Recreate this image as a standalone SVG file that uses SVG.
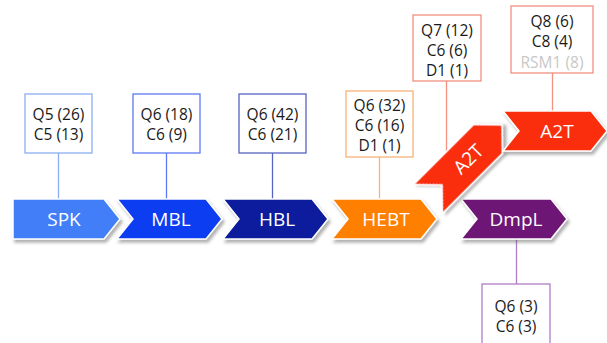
<svg xmlns="http://www.w3.org/2000/svg" width="607" height="343" viewBox="0 0 607 343">
<defs>
<filter id="sh" x="-10%" y="-20%" width="125%" height="150%">
<feDropShadow dx="2" dy="3" stdDeviation="1.5" flood-color="#555" flood-opacity="0.45"/>
</filter>
<style>
.chev{stroke:#fff;stroke-width:1.5;filter:url(#sh)}
.cl{font-family:"Open Sans","Liberation Sans",sans-serif;font-size:19px;fill:#fff;text-anchor:middle}
.box{fill:#fff;stroke-width:1.3}
.bt{font-family:"Open Sans","Liberation Sans",sans-serif;font-size:15.5px;fill:#1a1a1a;text-anchor:middle}
.ln{stroke-width:1.3;fill:none}
</style>
</defs>
<rect width="607" height="343" fill="#fff"/>
<g id="connectors">
<line class="ln" x1="58.5" y1="153" x2="58.5" y2="200" stroke="#8AAEF2"/>
<line class="ln" x1="166.5" y1="153" x2="166.5" y2="200" stroke="#5C78F2"/>
<line class="ln" x1="272.5" y1="153" x2="272.5" y2="200" stroke="#5865C0"/>
<line class="ln" x1="379.5" y1="157" x2="379.5" y2="200" stroke="#F4B27A"/>
<line class="ln" x1="446.5" y1="81" x2="446.5" y2="155" stroke="#F39080"/>
<line class="ln" x1="552.5" y1="73" x2="552.5" y2="112" stroke="#F39080"/>
<line class="ln" x1="516.5" y1="238" x2="516.5" y2="284" stroke="#B07CC4"/>
</g>
<g id="SPK">
<path class="chev" d="M13,199 H104 L120,219 L104,239 H13 Z" fill="#437EF7"/>
<text class="cl" x="64" y="226">SPK</text>
</g>
<g id="MBL">
<path class="chev" d="M117,199 H206 L222,219 L206,239 H117 L133,219 Z" fill="#0A3DF0"/>
<text class="cl" x="171" y="226">MBL</text>
</g>
<g id="HBL">
<path class="chev" d="M223,199 H312 L328,219 L312,239 H223 L239,219 Z" fill="#0A1B9C"/>
<text class="cl" x="277" y="226">HBL</text>
</g>
<g id="HEBT">
<path class="chev" d="M332,199 H421 L437,219 L421,239 H332 L348,219 Z" fill="#FF8000"/>
<text class="cl" x="386" y="226">HEBT</text>
</g>
<g id="DmpL">
<path class="chev" d="M461,199 H551 L567,219 L551,239 H461 L477,219 Z" fill="#6D1775"/>
<text class="cl" x="516" y="226">DmpL</text>
</g>
<g id="A2T_up" transform="translate(442,185) rotate(-45)">
<path class="chev" d="M-20,-20.5 H65 L85,0 L65,20.5 H-20 L0,0 Z" fill="#FA2E0C"/>
<text class="cl" x="37" y="7">A2T</text>
</g>
<g id="A2T">
<path class="chev" d="M503,111 H591 L607,131 L591,151 H503 L519,131 Z" fill="#FA2E0C"/>
<text class="cl" x="557" y="138">A2T</text>
</g>
<g id="box-SPK">
<rect class="box" x="25" y="94" width="67" height="59" stroke="#8AAEF2"/>
<text class="bt" x="58.5" y="120">Q5 (26)</text>
<text class="bt" x="58.5" y="140">C5 (13)</text>
</g>
<g id="box-MBL">
<rect class="box" x="133" y="94" width="67" height="59" stroke="#5C78F2"/>
<text class="bt" x="166.5" y="120">Q6 (18)</text>
<text class="bt" x="166.5" y="140">C6 (9)</text>
</g>
<g id="box-HBL">
<rect class="box" x="239" y="94" width="67" height="59" stroke="#5865C0"/>
<text class="bt" x="272.5" y="120">Q6 (42)</text>
<text class="bt" x="272.5" y="140">C6 (21)</text>
</g>
<g id="box-HEBT">
<rect class="box" x="346" y="91" width="67" height="66" stroke="#F4B27A"/>
<text class="bt" x="379.5" y="111">Q6 (32)</text>
<text class="bt" x="379.5" y="131">C6 (16)</text>
<text class="bt" x="379.5" y="151">D1 (1)</text>
</g>
<g id="box-A2T-up">
<rect class="box" x="413" y="15" width="68" height="66" stroke="#F39080"/>
<text class="bt" x="447" y="36">Q7 (12)</text>
<text class="bt" x="447" y="56">C6 (6)</text>
<text class="bt" x="447" y="76">D1 (1)</text>
</g>
<g id="box-A2T">
<rect class="box" x="511" y="6" width="82" height="67" stroke="#F39080"/>
<text class="bt" x="552" y="27">Q8 (6)</text>
<text class="bt" x="552" y="47">C8 (4)</text>
<text class="bt" x="552" y="68" style="fill:#C8C8C8">RSM1 (8)</text>
</g>
<g id="box-DmpL">
<rect class="box" x="482" y="284" width="68" height="70" stroke="#B07CC4"/>
<text class="bt" x="516" y="312">Q6 (3)</text>
<text class="bt" x="516" y="332">C6 (3)</text>
</g>
</svg>
